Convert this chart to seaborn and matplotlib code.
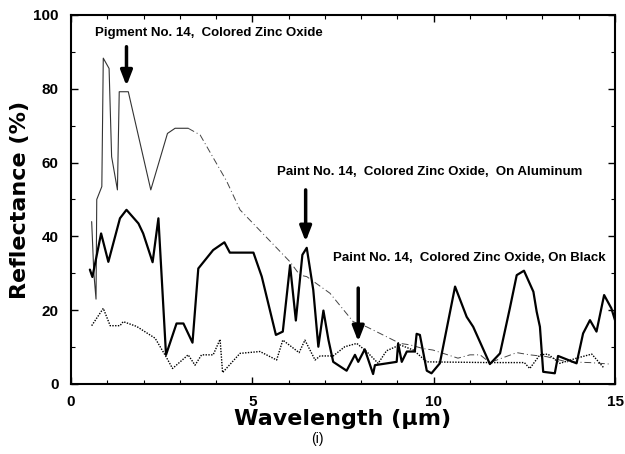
import matplotlib
matplotlib.use("Agg")
import matplotlib.pyplot as plt
import seaborn as sns
import pandas as pd
from matplotlib.ticker import MultipleLocator

# ---- data ----
pig_solid_x = [0.57, 0.63, 0.69, 0.71, 0.85, 0.89, 1.05, 1.12, 1.28, 1.33, 1.58, 2.2, 2.66, 2.87, 3.23]
pig_solid_y = [44, 30, 23, 50, 53.5, 88.3, 85.5, 61.6, 52.6, 79.2, 79.2, 52.6, 67.9, 69.3, 69.3]
pig_dash_x = [3.23, 3.56, 4.29, 4.66, 6.04, 6.31, 6.5, 7.14, 7.78, 8.15, 8.52, 9.07, 9.35, 9.71,
              9.98, 10.67, 11.0, 11.28, 11.55, 12.29, 12.65, 13.12, 13.67, 14.31, 14.86]
pig_dash_y = [69.3, 67.5, 55, 47.2, 33.1, 29.5, 29.1, 24.6, 16.9, 15.5, 13.7, 11, 10.6, 9.6,
              9.2, 7, 7.9, 7.9, 5.8, 8.5, 7.9, 7.4, 6, 5.8, 5.4]

alu_x = [0.52, 0.59, 0.83, 1.03, 1.35, 1.53, 1.86, 1.99, 2.25, 2.41, 2.62, 2.91, 3.1, 3.35, 3.51,
         3.92, 4.23, 4.38, 5.03, 5.26, 5.65, 5.84, 6.04, 6.2, 6.38, 6.5, 6.68, 6.82, 6.96, 7.1,
         7.23, 7.6, 7.83, 7.92, 8.1, 8.33, 8.38, 8.98, 9.02, 9.12, 9.26, 9.48, 9.53, 9.62, 9.81,
         9.94, 10.17, 10.59, 10.91, 11.09, 11.55, 11.83, 12.1, 12.29, 12.49, 12.75, 12.84, 12.93,
         13.02, 13.34, 13.43, 13.94, 14.12, 14.31, 14.49, 14.7, 14.9, 15.0]
alu_y = [31, 29, 40.8, 33.1, 44.9, 47.2, 43.5, 40.8, 33, 44.9, 7.9, 16.4, 16.4, 11.2, 31.3,
         36.3, 38.4, 35.6, 35.6, 29.1, 13.3, 14.2, 32.2, 17.2, 35, 36.9, 25.5, 10.1, 19.9, 11.9,
         6, 3.6, 7.9, 6, 9.4, 2.7, 5.1, 6, 11, 6, 8.8, 8.8, 13.6, 13.3, 3.6,
         2.9, 5.6, 26.4, 18.2, 15.5, 5.4, 8.3, 20.5, 29.5, 30.7, 25, 19.6, 15.5,
         3.3, 2.9, 7.6, 5.6, 13.7, 17.3, 14.2, 24.1, 20.5, 17.3]

blk_x = [0.57, 0.89, 1.08, 1.35, 1.44, 1.81, 2.32, 2.62, 2.8, 3.23, 3.42, 3.6, 3.92, 4.11, 4.18,
         4.66, 5.21, 5.67, 5.84, 6.29, 6.45, 6.73, 6.87, 7.23, 7.55, 7.88, 8.15, 8.47, 8.7, 9.07,
         9.44, 9.81, 11.55, 12.5, 12.65, 12.93, 13.15, 13.48, 13.94, 14.36, 14.68]
blk_y = [15.8, 20.5, 15.8, 15.8, 16.9, 15.6, 12.4, 7.4, 4.2, 7.9, 5.1, 7.9, 7.9, 12.1, 3.1,
         8.3, 8.8, 6.5, 11.9, 8.5, 11.9, 6.5, 7.6, 7.6, 10.1, 11, 8.8, 5.6, 9, 10.6,
         9.2, 6, 5.8, 5.8, 4.2, 7.9, 8.1, 5.6, 7, 8.1, 4.5]

labels = ["Pigment No. 14,  Colored Zinc Oxide",
          "Paint No. 14,  Colored Zinc Oxide,  On Aluminum",
          "Paint No. 14,  Colored Zinc Oxide, On Black"]
x_ticks = [0, 5, 10, 15]
y_ticks = [0, 20, 40, 60, 80, 100]

# ---- plot ----
sns.set_style("ticks")
plt.rcParams['font.family'] = ['Liberation Sans', 'DejaVu Sans']
plt.rcParams.update({"text.color": "black", "axes.labelcolor": "black",
                     "xtick.color": "black", "ytick.color": "black"})

fig = plt.figure(figsize=(6.25, 4.54), dpi=100)
ax = fig.add_axes([0.1136, 0.1542, 0.8704, 0.8128])

sns.lineplot(x=pig_solid_x, y=pig_solid_y, ax=ax, color="#333333", lw=0.8, sort=False)
sns.lineplot(x=pig_dash_x, y=pig_dash_y, ax=ax, color="#444444", lw=0.7, sort=False,
             linestyle=(0, (7, 3, 1, 3)))
sns.lineplot(x=alu_x, y=alu_y, ax=ax, color="black", lw=1.6, sort=False)
sns.lineplot(x=blk_x, y=blk_y, ax=ax, color="black", lw=1.0, sort=False, linestyle=(0, (1, 1)))

ax.set_xlim(0, 15)
ax.set_ylim(0, 100)
ax.set_xticks(x_ticks)
ax.set_yticks(y_ticks)
ax.xaxis.set_minor_locator(MultipleLocator(1))
ax.yaxis.set_minor_locator(MultipleLocator(10))
ax.tick_params(which="both", direction="in", top=True, right=True)
ax.tick_params(which="major", length=5, width=1)
ax.tick_params(which="minor", length=3, width=0.8)
ax.tick_params(axis="x", which="major", pad=8)
ax.tick_params(axis="y", which="major", pad=9)
for lbl in ax.get_xticklabels() + ax.get_yticklabels():
    lbl.set_fontweight("bold")
    lbl.set_fontsize(11)
for sp in ax.spines.values():
    sp.set_linewidth(1.5)
    sp.set_color("black")

ax.set_xlabel("Wavelength (\u00b5m)", fontsize=16, fontweight="bold", labelpad=0,
              family=["DejaVu Sans"])
ax.set_ylabel("Reflectance (%)", fontsize=16, fontweight="bold", labelpad=2,
              family=["DejaVu Sans"])
fig.text(0.507, 0.033, "(i)", ha="center", va="center", fontsize=10)

tfs = 9.5
ax.text(0.66, 95.1, labels[0], fontsize=tfs, fontweight="bold", va="center", ha="left")
ax.text(5.68, 57.5, labels[1], fontsize=tfs, fontweight="bold", va="center", ha="left")
ax.text(7.22, 34.1, labels[2], fontsize=tfs, fontweight="bold", va="center", ha="left")

ap = dict(arrowstyle="-|>,head_width=0.35,head_length=0.9", lw=2.5, color="black",
          shrinkA=0, shrinkB=0)
ax.annotate("", xy=(1.53, 80.8), xytext=(1.53, 91.4), arrowprops=ap)
ax.annotate("", xy=(6.47, 38.6), xytext=(6.47, 52.6), arrowprops=ap)
ax.annotate("", xy=(7.92, 11.5), xytext=(7.92, 26.0), arrowprops=ap)

fig.savefig("out.png", dpi=100)
